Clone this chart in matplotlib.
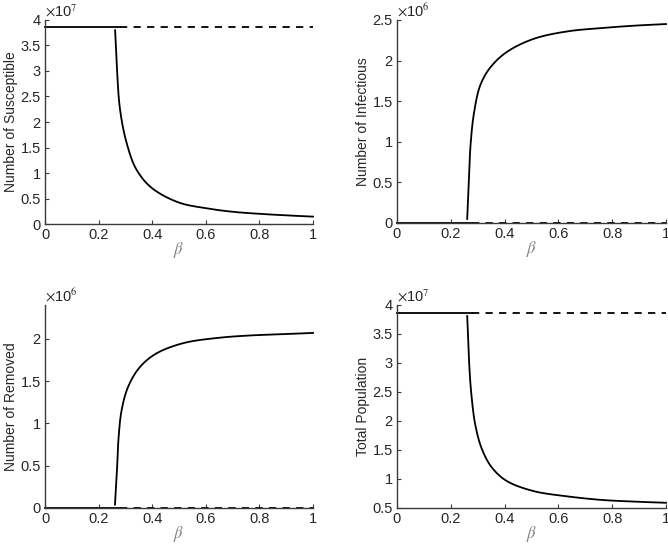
import matplotlib
matplotlib.use("Agg")
import matplotlib.pyplot as plt
import numpy as np
from matplotlib.ticker import FuncFormatter

plt.rcParams['font.family'] = ['Liberation Sans', 'DejaVu Sans']
plt.rcParams['mathtext.fontset'] = 'stix'

# disease-free equilibrium (solid = stable part, dashed = unstable part)
beta_stable = [0.0, 0.28]
beta_unstable = [0.28, 1.0]
S_free = 3.87e7
I_free = 0.0
R_free = 0.0
N_free = 3.87e7

# endemic branch
beta_S = [0.2615, 0.268, 0.28, 0.305, 0.342, 0.40, 0.50, 0.60, 0.70, 0.80, 0.90, 1.0]
S_end = [3.80, 3.08, 2.24, 1.58, 1.06, 0.70, 0.42, 0.31, 0.24, 0.20, 0.17, 0.145]  # x1e7

beta_I = [0.261, 0.267, 0.273, 0.286, 0.31, 0.348, 0.41, 0.51, 0.634, 0.758, 0.882, 1.0]
I_end = [0.05, 0.49, 0.94, 1.35, 1.70, 1.92, 2.11, 2.27, 2.36, 2.40, 2.43, 2.45]  # x1e6

beta_R = [0.261, 0.268, 0.274, 0.286, 0.311, 0.355, 0.417, 0.517, 0.641, 0.766, 0.89, 1.0]
R_end = [0.04, 0.41, 0.81, 1.16, 1.44, 1.67, 1.83, 1.95, 2.01, 2.04, 2.055, 2.07]  # x1e6

beta_N = [0.261, 0.267, 0.276, 0.292, 0.317, 0.354, 0.41, 0.509, 0.634, 0.758, 0.882, 1.0]
N_end = [3.81, 3.11, 2.48, 1.91, 1.50, 1.19, 0.96, 0.79, 0.70, 0.64, 0.61, 0.59]  # x1e7

fig = plt.figure(figsize=(6.68, 5.46), dpi=100)
axcol = '#3a3a3a'
txtcol = '#262626'
fs = 10.5

def smooth(xs, ys, ylim):
    """Centripetal Catmull-Rom through the read points, in normalized axes space."""
    xs = np.asarray(xs, float); ys = np.asarray(ys, float)
    yr = ylim[1] - ylim[0]
    P = np.column_stack([xs, (ys - ylim[0]) / yr])
    P = np.vstack([2 * P[0] - P[1], P, 2 * P[-1] - P[-2]])
    out = []
    for i in range(1, len(P) - 2):
        p0, p1, p2, p3 = P[i - 1], P[i], P[i + 1], P[i + 2]
        t0 = 0.0
        t1 = t0 + np.linalg.norm(p1 - p0) ** 0.5
        t2 = t1 + np.linalg.norm(p2 - p1) ** 0.5
        t3 = t2 + np.linalg.norm(p3 - p2) ** 0.5
        for t in np.linspace(t1, t2, 40, endpoint=False):
            A1 = (t1 - t) / (t1 - t0) * p0 + (t - t0) / (t1 - t0) * p1
            A2 = (t2 - t) / (t2 - t1) * p1 + (t - t1) / (t2 - t1) * p2
            A3 = (t3 - t) / (t3 - t2) * p2 + (t - t2) / (t3 - t2) * p3
            B1 = (t2 - t) / (t2 - t0) * A1 + (t - t0) / (t2 - t0) * A2
            B2 = (t3 - t) / (t3 - t1) * A2 + (t - t1) / (t3 - t1) * A3
            out.append((t2 - t) / (t2 - t1) * B1 + (t - t1) / (t2 - t1) * B2)
    out.append(P[-2])
    out = np.array(out)
    return out[:, 0], out[:, 1] * yr + ylim[0]

def setup(ax, ylim, yticks, ylabel, scale, exp):
    ax.set_xlim(0, 1)
    ax.set_ylim(*ylim)
    ax.set_xticks([0, 0.2, 0.4, 0.6, 0.8, 1])
    ax.set_xticklabels(['0', '0.2', '0.4', '0.6', '0.8', '1'])
    ax.set_yticks(yticks)
    ax.yaxis.set_major_formatter(FuncFormatter(lambda v, p: ('%g' % round(v / scale, 3))))
    for s in ['top', 'right']:
        ax.spines[s].set_visible(False)
    for s in ['left', 'bottom']:
        ax.spines[s].set_color(axcol)
        ax.spines[s].set_linewidth(1.0)
    ax.tick_params(direction='in', length=3, width=0.8, colors=axcol, labelsize=fs, pad=3,
                   labelcolor=txtcol)
    ax.set_ylabel(ylabel, fontsize=10, color=txtcol, labelpad=1.5)
    ax.set_xlabel(r'$\beta$', fontsize=12, color='#808080', labelpad=-1.5)
    ax.text(0.0, 1.003, r'$\times$10$^{%d}$' % exp, transform=ax.transAxes,
            fontsize=fs, color=txtcol, ha='left', va='bottom')

lw = 1.3
dash = (0, (4, 3.5))

ax1 = fig.add_axes([0.0674, 0.5897, 0.4012, 0.3737])
ax1.plot(beta_stable, [S_free, S_free], color='k', lw=lw)
ax1.plot(beta_unstable, [S_free, S_free], color='k', lw=lw, linestyle=dash)
x, y = smooth(beta_S, S_end, (0, 4))
ax1.plot(x, y * 1e7, color='k', lw=lw)
setup(ax1, (0, 4e7), np.arange(0, 4.01e7, 0.5e7), 'Number of Susceptible', 1e7, 7)

ax2 = fig.add_axes([0.5943, 0.5916, 0.4027, 0.3718])
ax2.plot(beta_stable, [I_free, I_free], color='k', lw=lw)
ax2.plot(beta_unstable, [I_free, I_free], color='k', lw=lw, linestyle=dash)
x, y = smooth(beta_I, I_end, (0, 2.5))
ax2.plot(x, y * 1e6, color='k', lw=lw)
setup(ax2, (0, 2.5e6), np.arange(0, 2.51e6, 0.5e6), 'Number of Infectious', 1e6, 6)

ax3 = fig.add_axes([0.0674, 0.0696, 0.4012, 0.3718])
ax3.plot(beta_stable, [R_free, R_free], color='k', lw=lw)
ax3.plot(beta_unstable, [R_free, R_free], color='k', lw=lw, linestyle=dash)
x, y = smooth(beta_R, R_end, (0, 2.4))
ax3.plot(x, y * 1e6, color='k', lw=lw)
setup(ax3, (0, 2.4e6), np.arange(0, 2.01e6, 0.5e6), 'Number of Removed', 1e6, 6)

ax4 = fig.add_axes([0.5943, 0.0696, 0.4027, 0.3718])
ax4.plot(beta_stable, [N_free, N_free], color='k', lw=lw)
ax4.plot(beta_unstable, [N_free, N_free], color='k', lw=lw, linestyle=dash)
x, y = smooth(beta_N, N_end, (0.5, 4))
ax4.plot(x, y * 1e7, color='k', lw=lw)
setup(ax4, (0.5e7, 4e7), np.arange(0.5e7, 4.01e7, 0.5e7), 'Total Population', 1e7, 7)

for ax in (ax1, ax2, ax3, ax4):
    for l in ax.lines:
        l.set_clip_on(False)

fig.savefig('out.png', dpi=100)
